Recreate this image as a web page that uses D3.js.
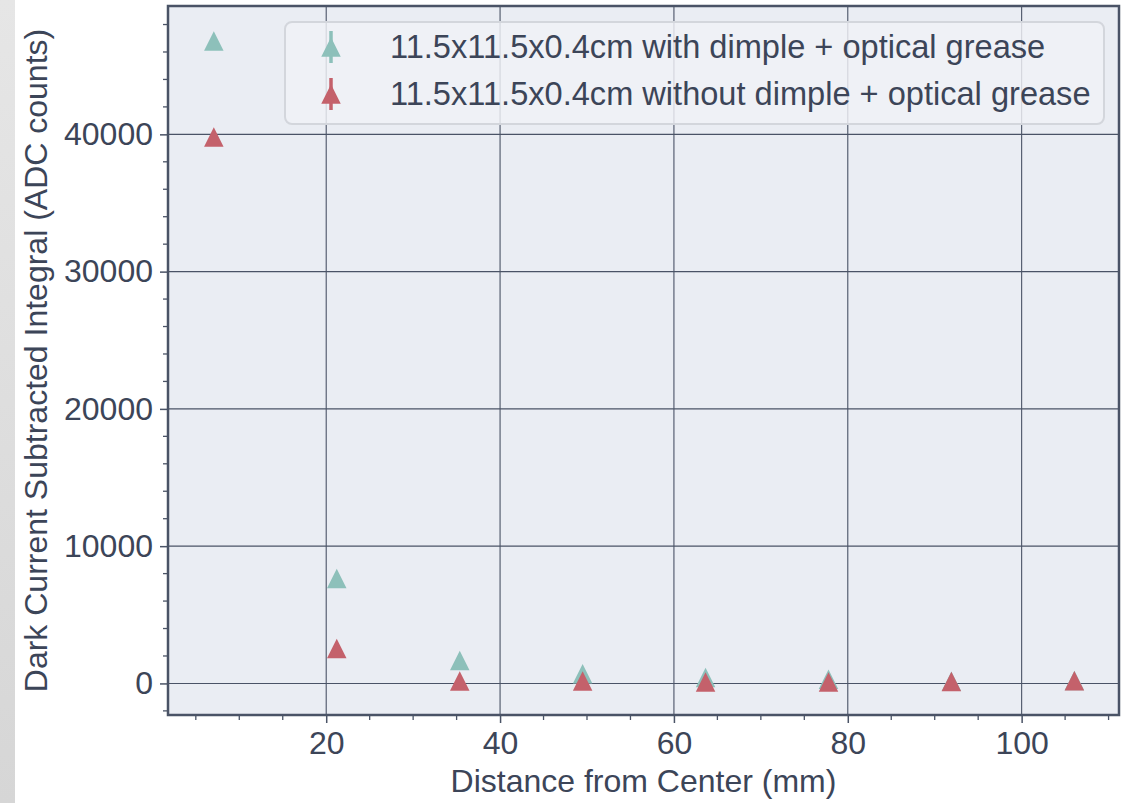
<!DOCTYPE html>
<html>
<head>
<meta charset="utf-8">
<script src="https://cdn.jsdelivr.net/npm/d3@7"></script>
<style>
  html, body { margin: 0; padding: 0; background: #ffffff; }
  svg { display: block; }
  text { font-family: "Liberation Sans", Arial, Helvetica, sans-serif; fill: #3c4558; }
</style>
</head>
<body>
<svg id="chart" width="1127" height="803"></svg>
<script>
// ---- data ----
const distances = [7.07, 21.21, 35.36, 49.50, 63.64, 77.78, 91.92, 106.07];
const withDimple = [46800, 7640, 1670, 700, 440, 310, 160, 210];
const withoutDimple = [39800, 2550, 170, 170, 110, 110, 140, 190];
const seriesNames = [
  "11.5x11.5x0.4cm with dimple + optical grease",
  "11.5x11.5x0.4cm without dimple + optical grease"
];
const seriesColors = ["#8dc0ba", "#c4616b"];
const xTicks = [20, 40, 60, 80, 100];
const yTicks = [0, 10000, 20000, 30000, 40000];
const xTitle = "Distance from Center (mm)";
const yTitle = "Dark Current Subtracted Integral (ADC counts)";

// ---- layout ----
const svg = d3.select("#chart");
const W = 1127, H = 803;
const plot = { left: 168, top: 6, right: 1119, bottom: 715 };
const ink = "#4a5366";

// left grey strip
const defs = svg.append("defs");
const grad = defs.append("linearGradient").attr("id", "strip").attr("x1", 0).attr("y1", 0).attr("x2", 0).attr("y2", 1);
grad.append("stop").attr("offset", "0%").attr("stop-color", "#e6e6e6");
grad.append("stop").attr("offset", "100%").attr("stop-color", "#d6d6d6");
svg.append("rect").attr("x", 0).attr("y", 0).attr("width", 15).attr("height", H).attr("fill", "url(#strip)");

const x = d3.scaleLinear().domain([1.8, 111.2]).range([plot.left, plot.right]);
const y = d3.scaleLinear().domain([-2300, 49350]).range([plot.bottom, plot.top]);

// background
svg.append("rect")
  .attr("x", plot.left).attr("y", plot.top)
  .attr("width", plot.right - plot.left).attr("height", plot.bottom - plot.top)
  .attr("fill", "#eaedf3");

// grid
const grid = svg.append("g");
grid.selectAll(".gx").data(xTicks).join("line")
  .attr("x1", d => x(d)).attr("x2", d => x(d))
  .attr("y1", plot.top).attr("y2", plot.bottom)
  .attr("stroke", ink).attr("stroke-width", 1.1);
grid.selectAll(".gy").data(yTicks).join("line")
  .attr("y1", d => y(d)).attr("y2", d => y(d))
  .attr("x1", plot.left).attr("x2", plot.right)
  .attr("stroke", ink).attr("stroke-width", 1.1);

// axes
const fontSize = 32;
const xAxis = d3.axisBottom(x).tickValues(xTicks).tickSize(8).tickPadding(8).tickFormat(d3.format("d"));
const xMinor = d3.range(5, 111, 5).filter(v => !xTicks.includes(v));
const gx = svg.append("g").attr("transform", `translate(0,${plot.bottom})`).call(xAxis);
gx.select(".domain").remove();
gx.selectAll(".tick line").attr("stroke", ink).attr("stroke-width", 1.5);
gx.selectAll(".tick text").attr("font-size", fontSize).attr("fill", "#3c4558")
  .attr("font-family", "Liberation Sans, Arial, sans-serif");
svg.append("g").selectAll("line").data(xMinor).join("line")
  .attr("x1", d => x(d)).attr("x2", d => x(d))
  .attr("y1", plot.bottom).attr("y2", plot.bottom + 5)
  .attr("stroke", ink).attr("stroke-width", 1.3);

const yAxis = d3.axisLeft(y).tickValues(yTicks).tickSize(8).tickPadding(7).tickFormat(d3.format("d"));
const yMinor = d3.range(-2000, 49000, 2000).filter(v => !yTicks.includes(v));
const gy = svg.append("g").attr("transform", `translate(${plot.left},0)`).call(yAxis);
gy.select(".domain").remove();
gy.selectAll(".tick line").attr("stroke", ink).attr("stroke-width", 1.5);
gy.selectAll(".tick text").attr("font-size", fontSize).attr("fill", "#3c4558")
  .attr("font-family", "Liberation Sans, Arial, sans-serif");
svg.append("g").selectAll("line").data(yMinor).join("line")
  .attr("y1", d => y(d)).attr("y2", d => y(d))
  .attr("x1", plot.left - 5).attr("x2", plot.left)
  .attr("stroke", ink).attr("stroke-width", 1.3);

// frame
svg.append("rect")
  .attr("x", plot.left).attr("y", plot.top)
  .attr("width", plot.right - plot.left).attr("height", plot.bottom - plot.top)
  .attr("fill", "none").attr("stroke", ink).attr("stroke-width", 2.5);

// axis titles
svg.append("text")
  .attr("x", (plot.left + plot.right) / 2).attr("y", 792)
  .attr("text-anchor", "middle").attr("font-size", fontSize)
  .text(xTitle);
svg.append("text")
  .attr("transform", `translate(47,${(plot.top + plot.bottom) / 2}) rotate(-90)`)
  .attr("text-anchor", "middle").attr("font-size", fontSize)
  .text(yTitle);

// markers
const triSize = 19.5;
const tri = (cx, cy, s) => `M${cx},${cy - s / 2}L${cx + s / 2},${cy + s / 2}L${cx - s / 2},${cy + s / 2}Z`;
const seriesData = [withDimple, withoutDimple];
seriesData.forEach((vals, i) => {
  svg.append("g").selectAll("path").data(vals).join("path")
    .attr("d", (v, j) => tri(x(distances[j]), y(v), triSize))
    .attr("fill", seriesColors[i]);
});

// legend
const lg = svg.append("g");
lg.append("rect")
  .attr("x", 285).attr("y", 22).attr("width", 819).attr("height", 102)
  .attr("rx", 7).attr("ry", 7)
  .attr("fill", "rgba(240,242,246,0.82)")
  .attr("stroke", "#d3d6dc").attr("stroke-width", 2);
seriesNames.forEach((name, i) => {
  const cy = 47 + i * 47;
  lg.append("line").attr("x1", 331).attr("x2", 331).attr("y1", cy - 16).attr("y2", cy + 16)
    .attr("stroke", seriesColors[i]).attr("stroke-width", 3.5);
  lg.append("path").attr("d", tri(331, cy, triSize)).attr("fill", seriesColors[i]);
  lg.append("text").attr("x", 390).attr("y", cy + 11).attr("font-size", 32.6).text(name);
});
</script>
</body>
</html>
